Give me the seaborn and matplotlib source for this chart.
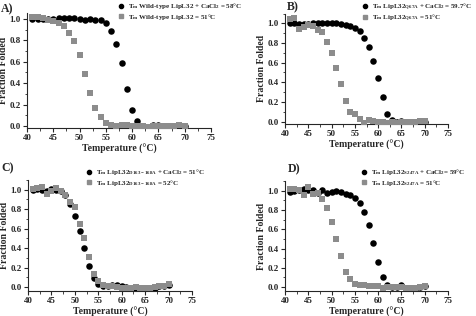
import numpy as np
import matplotlib
matplotlib.use("Agg")
import matplotlib.pyplot as plt
import seaborn as sns
from matplotlib.ticker import MultipleLocator
from matplotlib.lines import Line2D

# --- Data ---
temps = list(range(41, 71))

a_ca = [1.00, 1.00, 1.00, 1.00, 1.00, 1.01, 1.01, 1.01, 1.01, 1.00,
        0.99, 1.00, 0.99, 0.99, 0.96, 0.89, 0.77, 0.59, 0.35, 0.15,
        0.05, 0.00, -0.01, 0.01, 0.01, 0.00, 0.00, 0.00, 0.00, 0.00]
a_apo = [1.02, 1.02, 1.01, 0.99, 0.98, 0.96, 0.93, 0.87, 0.79, 0.66,
         0.49, 0.31, 0.17, 0.08, 0.03, 0.01, 0.00, 0.01, 0.01, 0.00,
         0.00, 0.00, -0.01, 0.00, 0.00, 0.00, 0.00, 0.00, 0.01, 0.00]

b_ca = [1.00, 1.00, 0.99, 0.99, 0.99, 1.00, 1.00, 1.00, 1.00, 1.00,
        1.00, 0.99, 0.98, 0.97, 0.95, 0.92, 0.85, 0.76, 0.62, 0.44,
        0.25, 0.08, 0.02, 0.00, 0.01, 0.00, 0.00, 0.00, 0.00, 0.00]
b_apo = [1.04, 1.05, 0.94, 0.96, 0.98, 0.97, 0.93, 0.91, 0.81, 0.70,
         0.55, 0.38, 0.21, 0.10, 0.08, 0.03, -0.01, 0.02, 0.01, 0.00,
         0.00, -0.01, 0.00, -0.01, 0.00, 0.00, 0.00, 0.00, 0.01, 0.01]

c_ca = [1.00, 1.01, 1.00, 0.99, 1.01, 1.00, 0.99, 0.95, 0.85, 0.73,
        0.58, 0.40, 0.22, 0.09, 0.03, 0.01, 0.01, 0.02, 0.02, 0.01,
        0.00, -0.01, -0.03, -0.01, -0.01, -0.01, -0.01, 0.01, 0.01, 0.02]
c_apo = [1.01, 1.02, 1.03, 0.96, 0.99, 1.02, 0.99, 0.95, 0.87, 0.82,
         0.65, 0.50, 0.31, 0.13, 0.06, 0.02, 0.01, 0.01, 0.00, -0.01,
         -0.01, -0.01, 0.00, -0.01, -0.01, -0.01, 0.00, 0.01, 0.01, 0.03]

d_ca = [0.99, 1.00, 1.01, 1.02, 1.01, 1.01, 0.98, 1.01, 0.98, 0.99,
        1.00, 0.99, 0.97, 0.95, 0.92, 0.87, 0.78, 0.64, 0.46, 0.26,
        0.10, 0.02, 0.00, 0.00, 0.02, -0.01, -0.02, -0.02, 0.00, 0.01]
d_apo = [1.02, 1.02, 1.01, 0.96, 1.04, 0.97, 0.98, 0.91, 0.82, 0.68,
         0.50, 0.32, 0.16, 0.08, 0.03, 0.02, 0.02, 0.01, 0.01, 0.01,
         -0.01, 0.00, 0.00, 0.00, 0.00, -0.01, -0.01, -0.01, 0.00, 0.01]

panel_letters = ["A)", "B)", "C)", "D)"]
legend_ca = [r"T$_{\rm m}$ Wild-type LipL32 + CaCl$_2$ = 58°C",
             r"T$_{\rm m}$ LipL32$_{\rm Q67A}$ + CaCl$_2$ = 59.7°C",
             r"T$_{\rm m}$ LipL32$_{\rm D163-168A}$ + CaCl$_2$ = 51°C",
             r"T$_{\rm m}$ LipL32$_{\rm S247A}$ + CaCl$_2$= 59°C"]
legend_apo = [r"T$_{\rm m}$ Wild-type LipL32 = 51°C",
              r"T$_{\rm m}$ LipL32$_{\rm Q67A}$ = 51°C",
              r"T$_{\rm m}$ LipL32$_{\rm D163-168A}$ = 52°C",
              r"T$_{\rm m}$ LipL32$_{\rm S247A}$ = 51°C"]

# --- Style ---
sns.set_style("ticks")
plt.rcParams['font.family'] = ['Liberation Serif', 'DejaVu Serif']
plt.rcParams['font.weight'] = 'bold'
plt.rcParams['mathtext.fontset'] = 'custom'
plt.rcParams['mathtext.rm'] = 'Liberation Serif:bold'
plt.rcParams['mathtext.bf'] = 'Liberation Serif:bold'
plt.rcParams['mathtext.it'] = 'Liberation Serif:bold'

W, H = 476, 316
fig = plt.figure(figsize=(W / 100, H / 100), dpi=100)

# axes boxes in pixels: left, right, top, bottom ; plus ylim
boxes = [(27, 211, 13, 128, (-0.019, 1.056)),
         (285, 448, 13.5, 124, (-0.025, 1.1)),
         (28, 192, 180, 291, (-0.04, 1.1)),
         (285, 448, 181, 291, (-0.04, 1.1))]
letter_pos = [(1, 3), (287, 1), (1, 162), (288, 163)]
legend_pos = [(117, 0), (361, 0), (85, 166), (360, 166)]

series = [(a_ca, a_apo), (b_ca, b_apo), (c_ca, c_apo), (d_ca, d_apo)]
gray = "#8c8c8c"

for i, (ca, apo) in enumerate(series):
    l, r, t, b, ylim = boxes[i]
    ax = fig.add_axes([l / W, 1 - b / H, (r - l) / W, (b - t) / H])
    sns.scatterplot(x=temps, y=ca, ax=ax, color="black", marker="o",
                    s=22, linewidth=0, zorder=2)
    sns.scatterplot(x=temps, y=apo, ax=ax, color=gray, marker="s",
                    s=20, linewidth=0, zorder=3)
    ax.set_xlim(40, 75)
    ax.set_ylim(*ylim)
    ax.xaxis.set_major_locator(MultipleLocator(5))
    ax.xaxis.set_minor_locator(MultipleLocator(2.5))
    ax.yaxis.set_major_locator(MultipleLocator(0.2))
    ax.yaxis.set_minor_locator(MultipleLocator(0.1))
    ax.yaxis.set_major_formatter(matplotlib.ticker.FormatStrFormatter('%.1f'))
    ax.tick_params(which='major', length=3, width=0.8, labelsize=6.5, pad=1.5)
    ax.tick_params(which='minor', length=1.8, width=0.6)
    for lab in ax.get_xticklabels() + ax.get_yticklabels():
        lab.set_fontweight('bold')
    sns.despine(ax=ax)
    for sp in ax.spines.values():
        sp.set_linewidth(0.8)
    ax.set_xlabel("Temperature (°C)", fontsize=7, fontweight='bold', labelpad=1)
    ax.set_ylabel("Fraction Folded", fontsize=7, fontweight='bold', labelpad=1)

    handles = [Line2D([], [], linestyle='none', marker='o', color='black', markersize=3),
               Line2D([], [], linestyle='none', marker='s', color=gray, markersize=2.7)]
    lx, ly = legend_pos[i]
    fig.legend(handles, [legend_ca[i], legend_apo[i]], loc='upper left',
               bbox_to_anchor=(lx / W, 1 - ly / H), frameon=False,
               prop={'family': 'Liberation Serif', 'weight': 'bold', 'size': 5.0},
               handlelength=0.8, handletextpad=0.6, labelspacing=0.05,
               borderpad=0.2, borderaxespad=0)

    px, py = letter_pos[i]
    fig.text(px / W, 1 - py / H, panel_letters[i], fontsize=8.5,
             fontweight='bold', va='top', ha='left')

fig.savefig("out.png", dpi=100)
